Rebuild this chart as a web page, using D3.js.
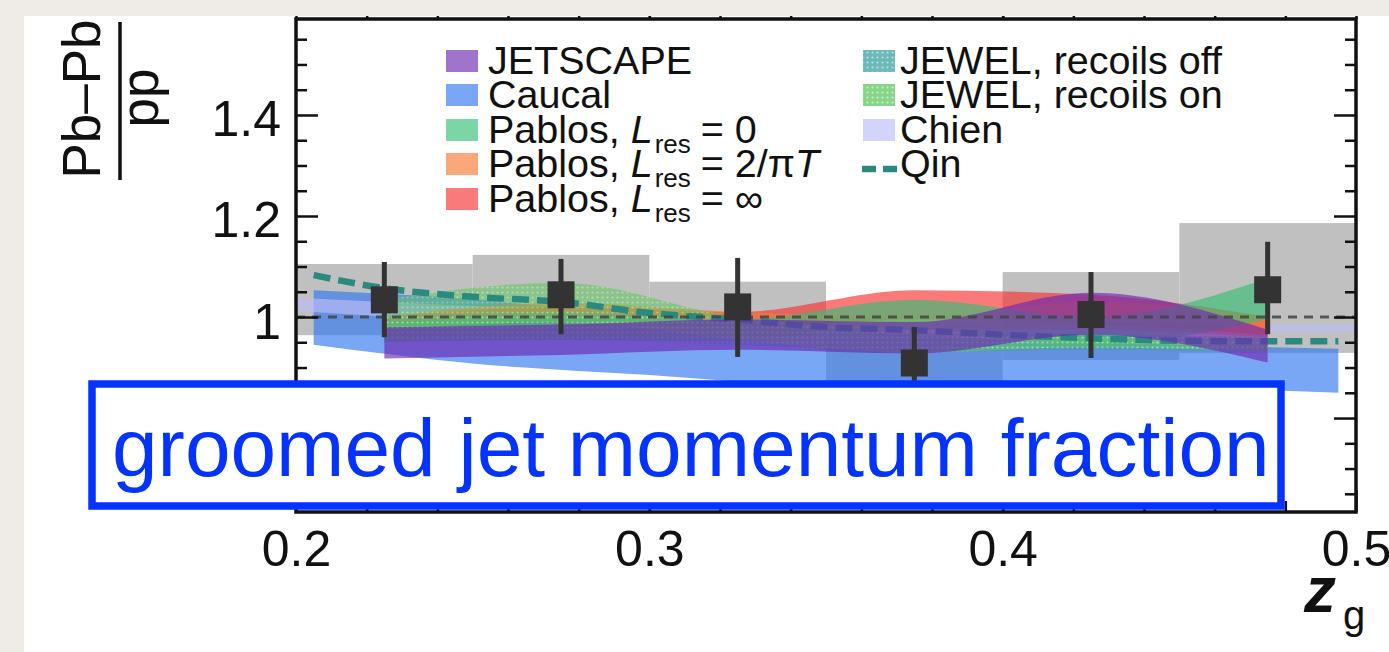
<!DOCTYPE html>
<html><head><meta charset="utf-8">
<script src="https://cdn.jsdelivr.net/npm/d3@7"></script>
<style>
html,body{margin:0;padding:0;background:#efebe6;overflow:hidden;}
svg{display:block;font-family:"Liberation Sans",Arial,Helvetica,sans-serif;}
</style></head><body>
<svg id="chart" width="1389" height="652"></svg>
<script>
// ---------------- data ----------------
const xDomain = [0.2, 0.5];
const yDomain = [0.614, 1.59];
const xTickValues = [0.2, 0.3, 0.4, 0.5];
const xTickLabels = ["0.2", "0.3", "0.4", "0.5"];
const yTickValues = [0.8, 1.0, 1.2, 1.4];
const yTickLabels = ["", "1", "1.2", "1.4"];   // 0.8 label is hidden behind the annotation box

// measured data
const zgCenters = [0.225, 0.275, 0.325, 0.375, 0.425, 0.475];
const binLow    = [0.20, 0.25, 0.30, 0.35, 0.40, 0.45];
const binHigh   = [0.25, 0.30, 0.35, 0.40, 0.45, 0.50];
const ratio     = [1.034, 1.044, 1.020, 0.909, 1.005, 1.054];
const statLow   = [0.960, 0.966, 0.921, 0.838, 0.919, 0.966];
const statHigh  = [1.109, 1.115, 1.117, 0.980, 1.089, 1.149];
const sysLow    = [0.964, 0.965, 0.966, 0.840, 0.915, 0.929];
const sysHigh   = [1.105, 1.123, 1.070, 0.978, 1.089, 1.186];

// model bands
const modelX = [0.225, 0.275, 0.325, 0.375, 0.425, 0.475];
const jetscapeLow  = [0.918, 0.925, 0.935, 0.928, 0.965, 0.910];
const jetscapeHigh = [0.980, 0.985, 0.995, 0.990, 1.048, 0.975];
const pablos0Low   = [0.950, 0.955, 0.955, 0.975, 0.945, 0.995];
const pablos0High  = [0.990, 1.000, 0.995, 1.034, 1.000, 1.077];
const pablosTLow   = [0.960, 0.965, 0.965, 0.975, 0.975, 0.960];
const pablosTHigh  = [1.000, 1.028, 1.010, 1.000, 1.030, 1.000];
const pablosInfLow = [0.965, 0.970, 0.975, 0.995, 0.985, 0.965];
const pablosInfHigh= [1.000, 1.020, 1.010, 1.053, 1.044, 1.000];
const jewelOffLow  = [0.950, 0.955, 0.945, 0.930, 0.935, 0.930];
const jewelOffHigh = [1.000, 1.010, 0.990, 0.970, 0.965, 0.960];
const jewelOnLow   = [0.975, 0.990, 0.955, 0.930, 0.940, 0.930];
const jewelOnHigh  = [1.035, 1.068, 1.000, 0.975, 0.960, 0.960];

const caucalX    = [0.205, 0.25, 0.30, 0.35, 0.40, 0.45, 0.495];
const caucalLow  = [0.945, 0.908, 0.885, 0.860, 0.845, 0.858, 0.850];
const caucalHigh = [1.053, 1.035, 1.000, 0.975, 0.955, 0.945, 0.937];

const chienX    = [0.20, 0.25, 0.30, 0.35, 0.40, 0.45, 0.50];
const chienLow  = [1.012, 0.992, 0.982, 0.976, 0.972, 0.970, 0.970];
const chienHigh = [1.038, 1.022, 1.008, 0.997, 0.990, 0.987, 0.985];

const qinX = [0.205, 0.225, 0.25, 0.275, 0.30, 0.325, 0.35, 0.375, 0.40, 0.425, 0.45, 0.475, 0.495];
const qinY = [1.083, 1.057, 1.040, 1.030, 1.008, 0.995, 0.980, 0.974, 0.965, 0.958, 0.953, 0.952, 0.952];

const legendLeft  = ["JETSCAPE", "Caucal", "Pablos0", "PablosT", "PablosInf"];
const legendRight = ["JEWEL, recoils off", "JEWEL, recoils on", "Chien", "Qin"];

// ---------------- drawing ----------------
const W = 1389, H = 652;
const svg = d3.select("#chart");
const x = d3.scaleLinear().domain(xDomain).range([296, 1356]);
const y = d3.scaleLinear().domain(yDomain).range([512, 19]);

const ALPHA = 0.65;
function baseColor(target, a) {
  const c = target.map(t => Math.max(0, Math.min(255, Math.round((t - (1 - a) * 255) / a))));
  return `rgb(${c[0]},${c[1]},${c[2]})`;
}
const col = {
  jetscape: baseColor([160, 115, 205], ALPHA),
  caucal:   baseColor([122, 166, 246], ALPHA),
  pablos0:  baseColor([125, 212, 165], ALPHA),
  pablosT:  baseColor([250, 168, 122], ALPHA),
  pablosInf:baseColor([250, 122, 122], ALPHA),
  chien:    baseColor([212, 212, 250], ALPHA)
};

// background
svg.append("rect").attr("width", W).attr("height", H).attr("fill", "#efebe6");
svg.append("rect").attr("x", 24).attr("y", 16).attr("width", W - 24).attr("height", H - 16).attr("fill", "#ffffff");

// patterns for JEWEL
const defs = svg.append("defs");
function dotPattern(id, bg, dot) {
  const p = defs.append("pattern").attr("id", id).attr("patternUnits", "userSpaceOnUse")
    .attr("width", 5).attr("height", 5);
  p.append("rect").attr("width", 5).attr("height", 5).attr("fill", bg);
  p.append("circle").attr("cx", 2.5).attr("cy", 2.5).attr("r", 1.1).attr("fill", dot);
}
dotPattern("jewelOff", "rgb(60,160,160)", "rgb(160,215,215)");
dotPattern("jewelOn", "rgb(95,200,95)", "rgb(180,235,180)");

// systematic boxes
svg.append("g").selectAll("rect").data(zgCenters).join("rect")
  .attr("x", (d, i) => x(binLow[i]))
  .attr("y", (d, i) => y(sysHigh[i]))
  .attr("width", (d, i) => x(binHigh[i]) - x(binLow[i]))
  .attr("height", (d, i) => y(sysLow[i]) - y(sysHigh[i]))
  .attr("fill", "#c0c0c0");

// bands
const area = d3.area().x(d => x(d.x)).y0(d => y(d.lo)).y1(d => y(d.hi)).curve(d3.curveMonotoneX);
function band(xs, lo, hi) { return xs.map((v, i) => ({ x: v, lo: lo[i], hi: hi[i] })); }

const gBands = svg.append("g");
function drawBand(data, fill, op) {
  gBands.append("path").attr("d", area(data)).attr("fill", fill).attr("opacity", op);
}
drawBand(band(caucalX, caucalLow, caucalHigh), col.caucal, ALPHA);
drawBand(band(chienX, chienLow, chienHigh), col.chien, ALPHA);
drawBand(band(modelX, pablosInfLow, pablosInfHigh), col.pablosInf, ALPHA);
drawBand(band(modelX, pablosTLow, pablosTHigh), col.pablosT, ALPHA);
drawBand(band(modelX, pablos0Low, pablos0High), col.pablos0, ALPHA);
drawBand(band(modelX, jewelOffLow, jewelOffHigh), "url(#jewelOff)", 0.55);
drawBand(band(modelX, jewelOnLow, jewelOnHigh), "url(#jewelOn)", 0.55);

// Qin dashed line
const line = d3.line().x(d => x(d.x)).y(d => y(d.v)).curve(d3.curveMonotoneX);
gBands.append("path").attr("d", line(qinX.map((v, i) => ({ x: v, v: qinY[i] }))))
  .attr("fill", "none").attr("stroke", "#2a8a80").attr("stroke-width", 6.5)
  .attr("stroke-dasharray", "17,8");

drawBand(band(modelX, jetscapeLow, jetscapeHigh), col.jetscape, ALPHA);

// unity line
svg.append("line").attr("x1", x(0.2)).attr("x2", x(0.5)).attr("y1", y(1)).attr("y2", y(1))
  .attr("stroke", "#444").attr("stroke-width", 3.2).attr("stroke-dasharray", "9,7").attr("opacity", 0.85);

// data points
const gData = svg.append("g");
gData.selectAll("line").data(zgCenters).join("line")
  .attr("x1", d => x(d)).attr("x2", d => x(d))
  .attr("y1", (d, i) => y(statHigh[i])).attr("y2", (d, i) => y(statLow[i]))
  .attr("stroke", "#333").attr("stroke-width", 5);
gData.selectAll("rect").data(zgCenters).join("rect")
  .attr("x", d => x(d) - 13.5).attr("y", (d, i) => y(ratio[i]) - 13.5)
  .attr("width", 27).attr("height", 27).attr("fill", "#333");

// axes
function clean(g) { g.select(".domain").remove(); g.selectAll("line").attr("stroke", "#111").attr("stroke-width", 2.5); }
const xMinor = d3.range(0.22, 0.4801, 0.02);
const yMinor = d3.range(0.65, 1.58, 0.05).filter(v => yTickValues.every(t => Math.abs(t - v) > 1e-6));

svg.append("g").attr("transform", "translate(0,512)")
  .call(d3.axisBottom(x).tickValues(xTickValues).tickSize(-22).tickPadding(18.5).tickFormat((d, i) => xTickLabels[i]))
  .call(clean)
  .call(g => g.selectAll("text").attr("font-size", 50).attr("font-family", "Liberation Sans, Arial, sans-serif").attr("fill", "#111"));
svg.append("g").attr("transform", "translate(0,512)")
  .call(d3.axisBottom(x).tickValues(xMinor).tickSize(-11).tickFormat("")).call(clean);
svg.append("g").attr("transform", "translate(0,19)")
  .call(d3.axisTop(x).tickValues(xMinor.concat(xTickValues)).tickSize(3).tickFormat("")).call(clean);

svg.append("g").attr("transform", "translate(296,0)")
  .call(d3.axisLeft(y).tickValues(yTickValues).tickSize(-22).tickPadding(15).tickFormat((d, i) => yTickLabels[i]))
  .call(clean)
  .call(g => g.selectAll("text").attr("font-size", 50).attr("dy", "0.42em").attr("font-family", "Liberation Sans, Arial, sans-serif").attr("fill", "#111"));
svg.append("g").attr("transform", "translate(296,0)")
  .call(d3.axisLeft(y).tickValues(yMinor).tickSize(-11).tickFormat("")).call(clean);
svg.append("g").attr("transform", "translate(1356,0)")
  .call(d3.axisRight(y).tickValues(yTickValues).tickSize(-22).tickFormat("")).call(clean);
svg.append("g").attr("transform", "translate(1356,0)")
  .call(d3.axisRight(y).tickValues(yMinor).tickSize(-11).tickFormat("")).call(clean);

// frame
svg.append("rect").attr("x", x(0.2)).attr("y", y(yDomain[1]))
  .attr("width", x(0.5) - x(0.2)).attr("height", y(yDomain[0]) - y(yDomain[1]))
  .attr("fill", "none").attr("stroke", "#111").attr("stroke-width", 3.5);

// y-axis title
const yt = svg.append("g").attr("fill", "#111").attr("font-size", 53);
yt.append("text").attr("transform", "translate(100,99) rotate(-90)").attr("text-anchor", "middle").text("Pb\u2013Pb");
yt.append("text").attr("transform", "translate(158,98) rotate(-90)").attr("text-anchor", "middle").text("pp");
yt.append("line").attr("x1", 120).attr("x2", 120).attr("y1", 22).attr("y2", 180).attr("stroke", "#111").attr("stroke-width", 3.5);

// x-axis title
const xt = svg.append("text").attr("fill", "#111");
xt.append("tspan").attr("x", 1304).attr("y", 612).attr("font-size", 64).attr("font-style", "italic").attr("font-weight", "bold").text("z");
xt.append("tspan").attr("x", 1343).attr("y", 629).attr("font-size", 40).text("g");

// legend
const lg = svg.append("g").attr("font-size", 39.5).attr("fill", "#111");
const rowBase = [74, 108, 143, 177, 212];
const leftFill = [col.jetscape, col.caucal, col.pablos0, col.pablosT, col.pablosInf];
legendLeft.forEach((k, i) => {
  lg.append("rect").attr("x", 446).attr("y", rowBase[i] - 24).attr("width", 32).attr("height", 22)
    .attr("fill", leftFill[i]).attr("opacity", ALPHA);
  const t = lg.append("text").attr("x", 488).attr("y", rowBase[i]);
  if (k === "JETSCAPE" || k === "Caucal") { t.text(k); return; }
  t.append("tspan").text("Pablos, ");
  t.append("tspan").attr("font-style", "italic").text("L");
  t.append("tspan").attr("font-size", 26).attr("dy", 10).attr("dx", 2).text("res");
  const rest = t.append("tspan").attr("dy", -10).attr("dx", 10);
  if (k === "Pablos0") rest.text("= 0");
  else if (k === "PablosT") { rest.text("= 2/\u03c0"); t.append("tspan").attr("font-style", "italic").text("T"); }
  else rest.text("= \u221e");
});
const rightFill = ["url(#jewelOff)", "url(#jewelOn)", col.chien];
legendRight.forEach((k, i) => {
  if (i < 3) {
    lg.append("rect").attr("x", 863).attr("y", rowBase[i] - 24).attr("width", 32).attr("height", 22)
      .attr("fill", rightFill[i]).attr("opacity", i < 2 ? 0.75 : ALPHA);
  } else {
    lg.append("line").attr("x1", 862).attr("x2", 897).attr("y1", rowBase[i] - 8).attr("y2", rowBase[i] - 8)
      .attr("stroke", "#2a8a80").attr("stroke-width", 6.5).attr("stroke-dasharray", "14,7");
  }
  lg.append("text").attr("x", 900).attr("y", rowBase[i]).text(k);
});

// annotation box
svg.append("rect").attr("x", 92).attr("y", 384).attr("width", 1189).attr("height", 122)
  .attr("fill", "#ffffff").attr("stroke", "#0433ff").attr("stroke-width", 7.5);
svg.append("text").attr("x", 112).attr("y", 476).attr("font-size", 82).attr("fill", "#0433ff")
  .text("groomed jet momentum fraction");
</script>
</body></html>
